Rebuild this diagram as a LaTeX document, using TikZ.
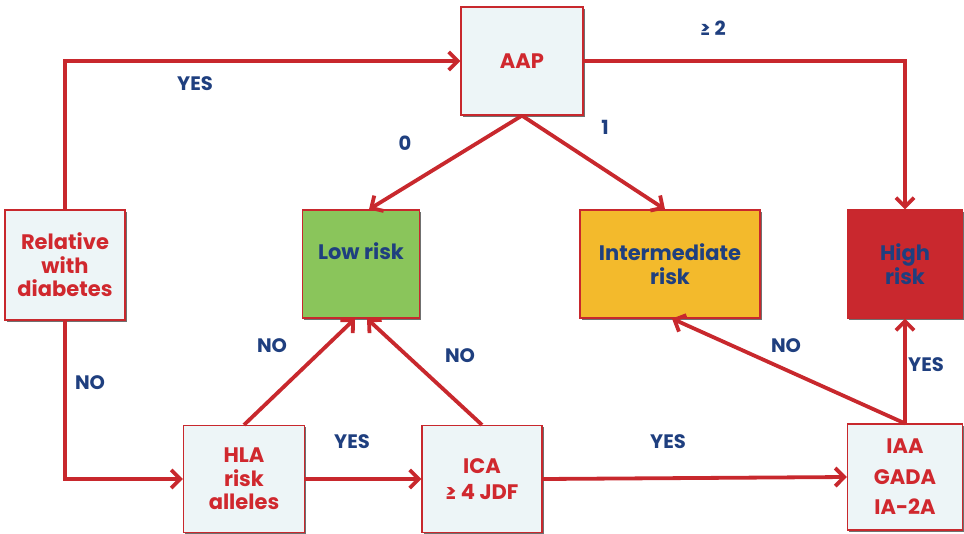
\documentclass[tikz,border=0pt]{standalone}
\usepackage{fontspec}
\setmainfont{Poppins}
\usetikzlibrary{arrows.meta,shadows,calc}

\definecolor{linered}{HTML}{C8282D}
\definecolor{textred}{HTML}{D0282E}
\definecolor{textblue}{HTML}{1F3F7F}
\definecolor{boxfill}{HTML}{EDF5F7}
\definecolor{lowgreen}{HTML}{8AC55B}
\definecolor{midyellow}{HTML}{F3BA2C}
\definecolor{highred}{HTML}{C9282E}

\tikzset{
  >={Straight Barb[length=9pt,width=18pt]},
  box/.style={draw=linered, line width=1.2pt, fill=boxfill, align=center,
    font=\fontsize{21}{23.5}\selectfont\bfseries, text=textred,
    drop shadow={shadow xshift=1.8pt, shadow yshift=-1.8pt, fill=black!70, opacity=0.8}},
  riskbox/.style={box, text=textblue},
  arr/.style={->, draw=linered, line width=3.8pt},
  lbl/.style={font=\fontsize{19.5}{21}\selectfont\bfseries, text=textblue}
}

\begin{document}
\begin{tikzpicture}[x=1pt,y=-1pt]
  \useasboundingbox (0,0) rectangle (964,533);
  % boxes
  \node[box, minimum width=122pt, minimum height=108pt] (aap) at (522,61) {AAP};
  \node[box, minimum width=120pt, minimum height=110pt] (rel) at (65,265) {Relative\\with\\diabetes};
  \node[riskbox, fill=lowgreen, minimum width=117pt, minimum height=108pt] (low) at (361,264) {Low risk\\[2pt]};
  \node[riskbox, fill=midyellow, minimum width=180pt, minimum height=108pt] (mid) at (670,264) {Intermediate\\risk};
  \node[riskbox, fill=highred, minimum width=115pt, minimum height=108pt] (high) at (905,264) {High\\risk};
  \node[box, minimum width=121pt, minimum height=107pt] (hla) at (244,479) {HLA\\risk\\alleles};
  \node[box, minimum width=120pt, minimum height=107pt] (ica) at (482,479) {ICA\\[3pt]≥ 4 JDF};
  \node[box, minimum width=115pt, minimum height=106pt] (iaa) at (905,477) {IAA\\[7pt]GADA\\[7pt]IA-2A};
  % connectors
  \draw[arr] (rel.north) |- (aap.west);
  \draw[arr] (rel.south) |- (hla.west);
  \draw[arr] (aap.east) -| (high.north);
  \draw[arr] (aap.south) -- ([xshift=8pt]low.north);
  \draw[arr] (aap.south) -- ([xshift=-5pt]mid.north);
  \draw[arr] (hla.north) -- ([xshift=-6pt]low.south);
  \draw[arr] (ica.north) -- ([xshift=6pt]low.south);
  \draw[arr] (hla.east) -- (ica.west);
  \draw[arr] (ica.east) -- (iaa.west);
  \draw[arr] (iaa.north) -- (high.south);
  \draw[arr] (iaa.north) -- ([xshift=2pt]mid.south);
  % labels
  \node[lbl] (yesaap) at (195,84) {YES};
  \node[lbl] (nohla) at (90,383) {NO};
  \node[lbl] (geq) at (713,28) {≥ 2};
  \node[lbl] (zero) at (405,143) {0};
  \node[lbl] (one) at (605,127) {1};
  \node[lbl] (nolow) at (272,346) {NO};
  \node[lbl] (noica) at (460,356) {NO};
  \node[lbl] (yesica) at (352,442) {YES};
  \node[lbl] (yesiaa) at (668,442) {YES};
  \node[lbl] (yeshigh) at (926,365) {YES};
  \node[lbl] (nomid) at (786,346) {NO};
\end{tikzpicture}
\end{document}
